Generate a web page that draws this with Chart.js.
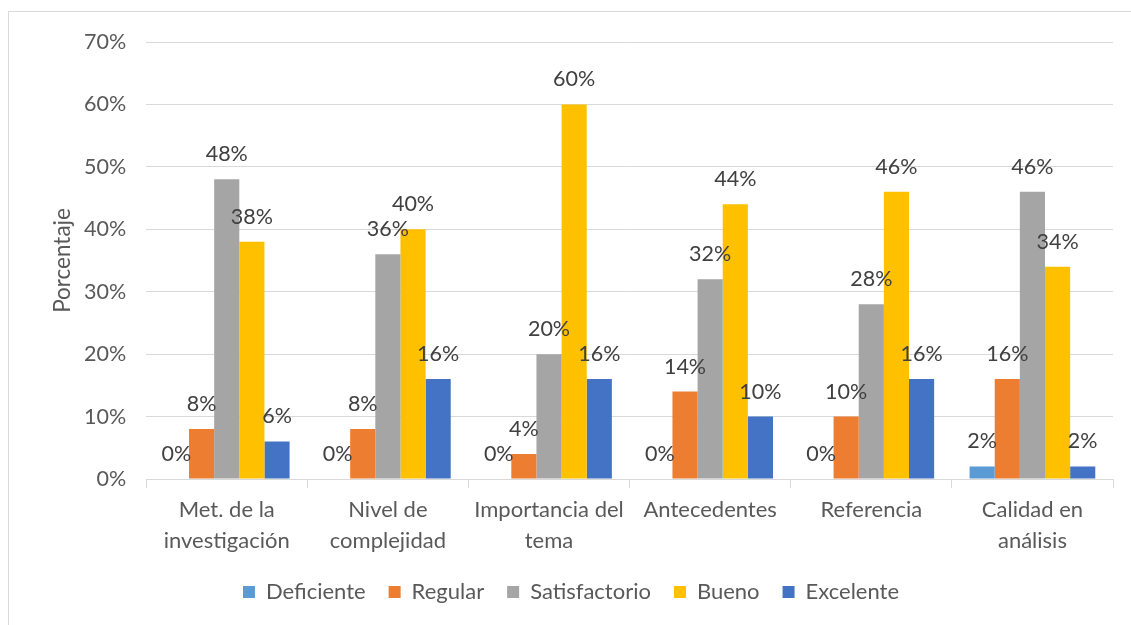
<!DOCTYPE html>
<html>
<head>
<meta charset="utf-8">
<script src="https://cdn.jsdelivr.net/npm/chart.js@4/dist/chart.umd.min.js"></script>
<style>
  html, body { margin: 0; padding: 0; background: #fff; }
  #wrap { position: relative; width: 1131px; height: 625px; overflow: hidden; }
  #frame { position: absolute; left: 8px; top: 11px; width: 1200px; height: 700px; border: 1px solid #d9d9d9; }
  canvas { position: absolute; left: 0; top: 0; }
</style>
</head>
<body>
<div id="wrap">
  <div id="frame"></div>
  <canvas id="c" width="1131" height="625"></canvas>
</div>
<script>
const categories = [
  ["Met. de la", "investigación"],
  ["Nivel de", "complejidad"],
  ["Importancia del", "tema"],
  ["Antecedentes"],
  ["Referencia"],
  ["Calidad en", "análisis"]
];
const seriesNames = ["Deficiente", "Regular", "Satisfactorio", "Bueno", "Excelente"];
const deficiente    = [0, 0, 0, 0, 0, 2];
const regular       = [8, 8, 4, 14, 10, 16];
const satisfactorio = [48, 36, 20, 32, 28, 46];
const bueno         = [38, 40, 60, 44, 46, 34];
const excelente     = [6, 16, 16, 10, 16, 2];
const seriesColors  = ["#5B9BD5", "#ED7D31", "#A5A5A5", "#FFC000", "#4472C4"];
const yTickMax = 70;
const yTickStep = 10;

const allSeries = [deficiente, regular, satisfactorio, bueno, excelente];
const FONT = "Lato, 'Open Sans', sans-serif";

const dataLabels = {
  id: 'dataLabels',
  afterDatasetsDraw(chart) {
    const ctx = chart.ctx;
    ctx.save();
    ctx.font = "21.5px " + FONT;
    ctx.fillStyle = "#404040";
    ctx.textAlign = "center";
    ctx.textBaseline = "middle";
    chart.data.datasets.forEach((ds, i) => {
      const meta = chart.getDatasetMeta(i);
      meta.data.forEach((el, j) => {
        ctx.fillText(ds.data[j] + "%", el.x, el.y - 25);
      });
    });
    ctx.restore();
  }
};

new Chart(document.getElementById('c'), {
  type: 'bar',
  data: {
    labels: categories,
    datasets: allSeries.map((vals, i) => ({
      label: seriesNames[i],
      data: vals,
      backgroundColor: seriesColors[i],
      borderWidth: 0,
      categoryPercentage: 0.78,
      barPercentage: 1.0
    }))
  },
  options: {
    responsive: false,
    animation: false,
    devicePixelRatio: 1,
    layout: { padding: { top: 42, right: 18, left: 29, bottom: 12 } },
    plugins: {
      legend: {
        position: 'bottom',
        labels: {
          boxWidth: 12,
          boxHeight: 12,
          padding: 23,
          color: "#595959",
          font: { family: FONT, size: 22 }
        }
      },
      tooltip: { enabled: false }
    },
    scales: {
      x: {
        offset: true,
        grid: {
          display: true,
          offset: true,
          drawOnChartArea: false,
          drawTicks: true,
          tickLength: 9,
          color: "#d9d9d9"
        },
        border: { display: true, color: "#d9d9d9" },
        ticks: {
          color: "#595959",
          font: { family: FONT, size: 22, lineHeight: 1.4 },
          padding: 7,
          maxRotation: 0
        },
        afterFit: (scale) => { scale.height -= 5.6; }
      },
      y: {
        min: 0,
        max: yTickMax,
        grid: { color: "#d9d9d9", drawTicks: false },
        border: { display: false },
        ticks: {
          stepSize: yTickStep,
          padding: 20,
          color: "#595959",
          font: { family: FONT, size: 21.5 },
          callback: v => v + "%"
        },
        title: {
          display: true,
          text: "Porcentaje",
          color: "#595959",
          font: { family: FONT, size: 22.5 },
          padding: { top: 20, bottom: -12 }
        }
      }
    }
  },
  plugins: [dataLabels]
});
</script>
</body>
</html>
